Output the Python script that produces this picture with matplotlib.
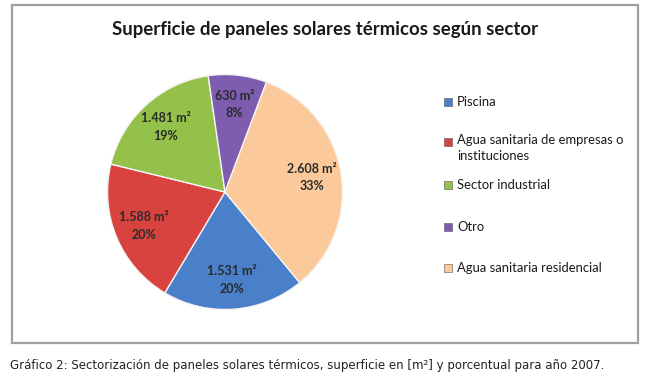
import matplotlib.pyplot as plt
from matplotlib.patches import Rectangle

sectores = ['Piscina', 'Agua sanitaria de empresas o\ninstituciones', 'Sector industrial',
            'Otro', 'Agua sanitaria residencial']
superficie = [1531, 1588, 1481, 630, 2608]
colores = ['#4a7fc9', '#d9433f', '#93c14a', '#7e5cb0', '#fcc99a']

total = sum(superficie)

plt.rcParams['font.family'] = ['Lato', 'DejaVu Sans']

fig = plt.figure(figsize=(6.6, 3.82), dpi=100)

# marco del gráfico
fig.patches.append(Rectangle((12 / 660, 1 - 343 / 382), 626 / 660, 338 / 382,
                             transform=fig.transFigure, fill=False,
                             edgecolor='#a0a0a0', linewidth=1.6))

fig.text(325 / 660, 1 - 30 / 382, 'Superficie de paneles solares térmicos según sector',
         ha='center', va='center', fontsize=13.4, fontweight='bold', color='#1a1a1a')


def etiqueta(pct):
    valor = int(round(pct * total / 100))
    txt = f'{valor:,}'.replace(',', '.')
    return f'{txt} m²\n{pct:.0f}%'


ax = fig.add_axes([107.5 / 660, 1 - 309.5 / 382, 235 / 660, 235 / 382])
wedges, textos, autotextos = ax.pie(superficie, colors=colores, startangle=-50.5,
                                    counterclock=False, autopct=etiqueta,
                                    pctdistance=0.75,
                                    wedgeprops=dict(edgecolor='#f4f4f4', linewidth=1.0))
for t in autotextos:
    t.set_fontsize(9)
    t.set_fontweight('bold')
    t.set_color('#2a2a2a')
    t.set_linespacing(1.55)
ax.set_xlim(-1, 1)
ax.set_ylim(-1, 1)
ax.set_aspect('equal')

# leyenda
leg_y = [102, 142, 185, 227, 268]
for i, (nombre, y) in enumerate(zip(sectores, leg_y)):
    fig.patches.append(Rectangle((444 / 660, 1 - (y + 4) / 382), 8 / 660, 8 / 382,
                                 transform=fig.transFigure, facecolor=colores[i],
                                 edgecolor='#555555', linewidth=0.4))
    if '\n' in nombre:
        fig.text(457 / 660, 1 - (y - 8) / 382, nombre, ha='left', va='top',
                 fontsize=9.4, color='#1a1a1a', linespacing=1.45)
    else:
        fig.text(457 / 660, 1 - y / 382, nombre, ha='left', va='center',
                 fontsize=9.4, color='#1a1a1a')

fig.text(10 / 660, 1 - 365 / 382,
         'Gráfico 2: Sectorización de paneles solares térmicos, superficie en [m²] y porcentual para año 2007.',
         ha='left', va='center', fontsize=8.5, color='#222222', family=['DejaVu Sans'])

fig.savefig('out.png', dpi=100)
